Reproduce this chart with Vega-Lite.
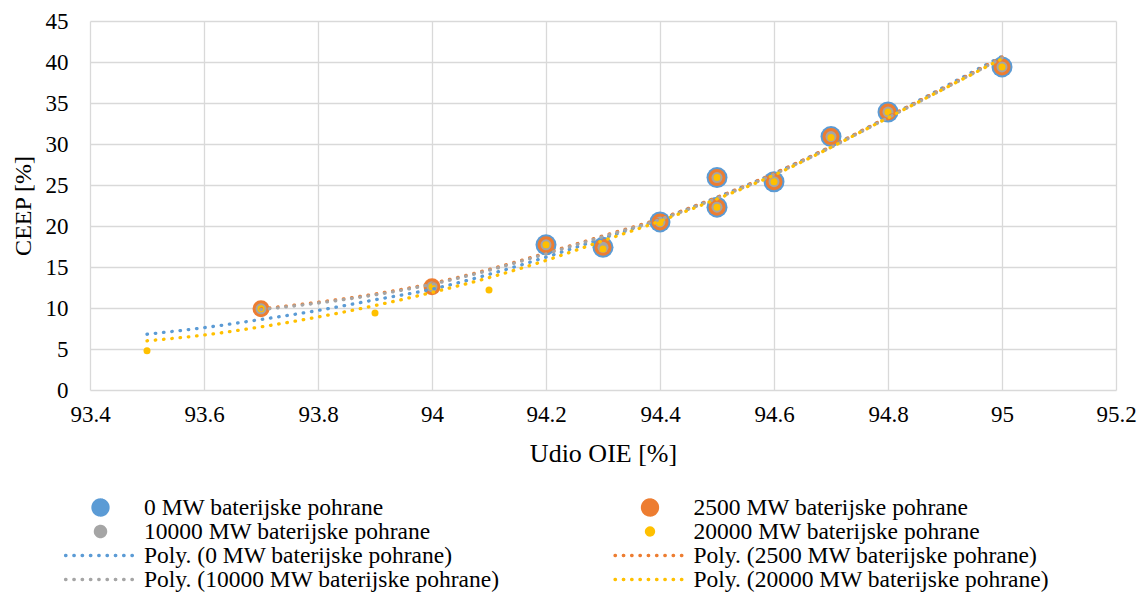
{
  "$schema": "https://vega.github.io/schema/vega-lite/v6.json",
  "width": 1026,
  "height": 369,
  "autosize": {"type": "none"},
  "padding": {"left": 90, "top": 21, "right": 24, "bottom": 204},
  "background": "white",
  "config": {
    "font": "Liberation Serif",
    "view": {"stroke": null},
    "axis": {
      "domain": false,
      "ticks": false,
      "grid": true,
      "gridColor": "#D9D9D9",
      "gridWidth": 1.3,
      "labelFont": "Liberation Serif",
      "labelFontSize": 23,
      "labelColor": "#000000",
      "labelFlush": false,
      "labelOverlap": false,
      "titleFont": "Liberation Serif",
      "titleFontWeight": "normal",
      "titleColor": "#000000"
    }
  },
  "datasets": {
    "pts": [
      {"x": 94.2, "y": 17.7, "series": "0 MW baterijske pohrane"},
      {"x": 94.3, "y": 17.4, "series": "0 MW baterijske pohrane"},
      {"x": 94.4, "y": 20.5, "series": "0 MW baterijske pohrane"},
      {"x": 94.5, "y": 25.9, "series": "0 MW baterijske pohrane"},
      {"x": 94.5, "y": 22.3, "series": "0 MW baterijske pohrane"},
      {"x": 94.6, "y": 25.4, "series": "0 MW baterijske pohrane"},
      {"x": 94.7, "y": 30.9, "series": "0 MW baterijske pohrane"},
      {"x": 94.8, "y": 33.9, "series": "0 MW baterijske pohrane"},
      {"x": 95.0, "y": 39.4, "series": "0 MW baterijske pohrane"},
      {"x": 93.7, "y": 9.9, "series": "2500 MW baterijske pohrane"},
      {"x": 94.0, "y": 12.6, "series": "2500 MW baterijske pohrane"},
      {"x": 94.2, "y": 17.7, "series": "2500 MW baterijske pohrane"},
      {"x": 94.3, "y": 17.4, "series": "2500 MW baterijske pohrane"},
      {"x": 94.4, "y": 20.5, "series": "2500 MW baterijske pohrane"},
      {"x": 94.5, "y": 25.9, "series": "2500 MW baterijske pohrane"},
      {"x": 94.5, "y": 22.3, "series": "2500 MW baterijske pohrane"},
      {"x": 94.6, "y": 25.4, "series": "2500 MW baterijske pohrane"},
      {"x": 94.7, "y": 30.9, "series": "2500 MW baterijske pohrane"},
      {"x": 94.8, "y": 33.9, "series": "2500 MW baterijske pohrane"},
      {"x": 95.0, "y": 39.4, "series": "2500 MW baterijske pohrane"},
      {"x": 93.7, "y": 9.9, "series": "10000 MW baterijske pohrane"},
      {"x": 94.0, "y": 12.6, "series": "10000 MW baterijske pohrane"},
      {"x": 94.2, "y": 17.7, "series": "10000 MW baterijske pohrane"},
      {"x": 94.3, "y": 17.4, "series": "10000 MW baterijske pohrane"},
      {"x": 94.4, "y": 20.5, "series": "10000 MW baterijske pohrane"},
      {"x": 94.5, "y": 25.9, "series": "10000 MW baterijske pohrane"},
      {"x": 94.5, "y": 22.3, "series": "10000 MW baterijske pohrane"},
      {"x": 94.6, "y": 25.4, "series": "10000 MW baterijske pohrane"},
      {"x": 94.7, "y": 30.9, "series": "10000 MW baterijske pohrane"},
      {"x": 94.8, "y": 33.9, "series": "10000 MW baterijske pohrane"},
      {"x": 95.0, "y": 39.4, "series": "10000 MW baterijske pohrane"},
      {"x": 93.5, "y": 4.8, "series": "20000 MW baterijske pohrane"},
      {"x": 93.7, "y": 9.9, "series": "20000 MW baterijske pohrane"},
      {"x": 93.9, "y": 9.4, "series": "20000 MW baterijske pohrane"},
      {"x": 94.0, "y": 12.6, "series": "20000 MW baterijske pohrane"},
      {"x": 94.1, "y": 12.2, "series": "20000 MW baterijske pohrane"},
      {"x": 94.2, "y": 17.7, "series": "20000 MW baterijske pohrane"},
      {"x": 94.3, "y": 17.2, "series": "20000 MW baterijske pohrane"},
      {"x": 94.4, "y": 20.4, "series": "20000 MW baterijske pohrane"},
      {"x": 94.5, "y": 25.9, "series": "20000 MW baterijske pohrane"},
      {"x": 94.5, "y": 22.3, "series": "20000 MW baterijske pohrane"},
      {"x": 94.6, "y": 25.4, "series": "20000 MW baterijske pohrane"},
      {"x": 94.7, "y": 30.8, "series": "20000 MW baterijske pohrane"},
      {"x": 94.8, "y": 33.9, "series": "20000 MW baterijske pohrane"},
      {"x": 95.0, "y": 39.4, "series": "20000 MW baterijske pohrane"}
    ],
    "trend": [
      {"x": 93.5, "y": 6.8, "trend": "Poly. (0 MW baterijske pohrane)"},
      {"x": 93.6, "y": 7.6, "trend": "Poly. (0 MW baterijske pohrane)"},
      {"x": 93.7, "y": 8.6, "trend": "Poly. (0 MW baterijske pohrane)"},
      {"x": 93.8, "y": 9.7, "trend": "Poly. (0 MW baterijske pohrane)"},
      {"x": 93.9, "y": 11.0, "trend": "Poly. (0 MW baterijske pohrane)"},
      {"x": 94.0, "y": 12.3, "trend": "Poly. (0 MW baterijske pohrane)"},
      {"x": 94.1, "y": 14.1, "trend": "Poly. (0 MW baterijske pohrane)"},
      {"x": 94.2, "y": 16.2, "trend": "Poly. (0 MW baterijske pohrane)"},
      {"x": 94.3, "y": 18.5, "trend": "Poly. (0 MW baterijske pohrane)"},
      {"x": 94.4, "y": 20.8, "trend": "Poly. (0 MW baterijske pohrane)"},
      {"x": 94.5, "y": 23.5, "trend": "Poly. (0 MW baterijske pohrane)"},
      {"x": 94.6, "y": 26.4, "trend": "Poly. (0 MW baterijske pohrane)"},
      {"x": 94.7, "y": 29.7, "trend": "Poly. (0 MW baterijske pohrane)"},
      {"x": 94.8, "y": 33.3, "trend": "Poly. (0 MW baterijske pohrane)"},
      {"x": 94.9, "y": 37.0, "trend": "Poly. (0 MW baterijske pohrane)"},
      {"x": 95.0, "y": 40.7, "trend": "Poly. (0 MW baterijske pohrane)"},
      {"x": 93.7, "y": 9.9, "trend": "Poly. (2500 MW baterijske pohrane)"},
      {"x": 93.8, "y": 10.7, "trend": "Poly. (2500 MW baterijske pohrane)"},
      {"x": 93.9, "y": 11.7, "trend": "Poly. (2500 MW baterijske pohrane)"},
      {"x": 94.0, "y": 13.0, "trend": "Poly. (2500 MW baterijske pohrane)"},
      {"x": 94.1, "y": 14.7, "trend": "Poly. (2500 MW baterijske pohrane)"},
      {"x": 94.2, "y": 16.7, "trend": "Poly. (2500 MW baterijske pohrane)"},
      {"x": 94.3, "y": 18.8, "trend": "Poly. (2500 MW baterijske pohrane)"},
      {"x": 94.4, "y": 20.9, "trend": "Poly. (2500 MW baterijske pohrane)"},
      {"x": 94.5, "y": 23.5, "trend": "Poly. (2500 MW baterijske pohrane)"},
      {"x": 94.6, "y": 26.4, "trend": "Poly. (2500 MW baterijske pohrane)"},
      {"x": 94.7, "y": 29.7, "trend": "Poly. (2500 MW baterijske pohrane)"},
      {"x": 94.8, "y": 33.3, "trend": "Poly. (2500 MW baterijske pohrane)"},
      {"x": 94.9, "y": 36.9, "trend": "Poly. (2500 MW baterijske pohrane)"},
      {"x": 95.0, "y": 40.6, "trend": "Poly. (2500 MW baterijske pohrane)"},
      {"x": 93.7, "y": 9.8, "trend": "Poly. (10000 MW baterijske pohrane)"},
      {"x": 93.8, "y": 10.6, "trend": "Poly. (10000 MW baterijske pohrane)"},
      {"x": 93.9, "y": 11.6, "trend": "Poly. (10000 MW baterijske pohrane)"},
      {"x": 94.0, "y": 12.9, "trend": "Poly. (10000 MW baterijske pohrane)"},
      {"x": 94.1, "y": 14.6, "trend": "Poly. (10000 MW baterijske pohrane)"},
      {"x": 94.2, "y": 16.6, "trend": "Poly. (10000 MW baterijske pohrane)"},
      {"x": 94.3, "y": 18.7, "trend": "Poly. (10000 MW baterijske pohrane)"},
      {"x": 94.4, "y": 20.8, "trend": "Poly. (10000 MW baterijske pohrane)"},
      {"x": 94.5, "y": 23.4, "trend": "Poly. (10000 MW baterijske pohrane)"},
      {"x": 94.6, "y": 26.3, "trend": "Poly. (10000 MW baterijske pohrane)"},
      {"x": 94.7, "y": 29.6, "trend": "Poly. (10000 MW baterijske pohrane)"},
      {"x": 94.8, "y": 33.2, "trend": "Poly. (10000 MW baterijske pohrane)"},
      {"x": 94.9, "y": 36.8, "trend": "Poly. (10000 MW baterijske pohrane)"},
      {"x": 95.0, "y": 40.5, "trend": "Poly. (10000 MW baterijske pohrane)"},
      {"x": 93.5, "y": 6.0, "trend": "Poly. (20000 MW baterijske pohrane)"},
      {"x": 93.6, "y": 6.7, "trend": "Poly. (20000 MW baterijske pohrane)"},
      {"x": 93.7, "y": 7.7, "trend": "Poly. (20000 MW baterijske pohrane)"},
      {"x": 93.8, "y": 8.9, "trend": "Poly. (20000 MW baterijske pohrane)"},
      {"x": 93.9, "y": 10.3, "trend": "Poly. (20000 MW baterijske pohrane)"},
      {"x": 94.0, "y": 11.9, "trend": "Poly. (20000 MW baterijske pohrane)"},
      {"x": 94.1, "y": 13.7, "trend": "Poly. (20000 MW baterijske pohrane)"},
      {"x": 94.2, "y": 15.8, "trend": "Poly. (20000 MW baterijske pohrane)"},
      {"x": 94.3, "y": 18.2, "trend": "Poly. (20000 MW baterijske pohrane)"},
      {"x": 94.4, "y": 20.6, "trend": "Poly. (20000 MW baterijske pohrane)"},
      {"x": 94.5, "y": 23.3, "trend": "Poly. (20000 MW baterijske pohrane)"},
      {"x": 94.6, "y": 26.2, "trend": "Poly. (20000 MW baterijske pohrane)"},
      {"x": 94.7, "y": 29.6, "trend": "Poly. (20000 MW baterijske pohrane)"},
      {"x": 94.8, "y": 33.2, "trend": "Poly. (20000 MW baterijske pohrane)"},
      {"x": 94.9, "y": 36.8, "trend": "Poly. (20000 MW baterijske pohrane)"},
      {"x": 95.0, "y": 40.4, "trend": "Poly. (20000 MW baterijske pohrane)"}
    ]
  },
  "layer": [
    {
      "data": {"name": "pts"},
      "mark": {"type": "point", "filled": true, "shape": "circle", "opacity": 1},
      "encoding": {
        "x": {
          "field": "x", "type": "quantitative",
          "scale": {"domain": [93.4, 95.2], "nice": false, "zero": false},
          "axis": {
            "title": "Udio OIE [%]",
            "values": [93.4, 93.6, 93.8, 94.0, 94.2, 94.4, 94.6, 94.8, 95.0, 95.2],
            "format": "~f",
            "labelPadding": 13,
            "titlePadding": 14,
            "titleFontSize": 26
          }
        },
        "y": {
          "field": "y", "type": "quantitative",
          "scale": {"domain": [0, 45], "nice": false},
          "axis": {
            "title": "CEEP [%]",
            "values": [0, 5, 10, 15, 20, 25, 30, 35, 40, 45],
            "labelPadding": 22,
            "titlePadding": 10,
            "titleFontSize": 24
          }
        },
        "color": {
          "field": "series", "type": "nominal",
          "scale": {
            "domain": ["0 MW baterijske pohrane", "10000 MW baterijske pohrane", "Poly. (0 MW baterijske pohrane)", "Poly. (10000 MW baterijske pohrane)", "2500 MW baterijske pohrane", "20000 MW baterijske pohrane", "Poly. (2500 MW baterijske pohrane)", "Poly. (20000 MW baterijske pohrane)"],
            "range": ["#5B9BD5", "#A5A5A5", "#5B9BD5", "#A5A5A5", "#ED7D31", "#FFC000", "#ED7D31", "#FFC000"]
          },
          "legend": {
            "title": null,
            "orient": "none",
            "legendX": -26.5,
            "legendY": 475,
            "columns": 2,
            "columnPadding": 113.5,
            "rowPadding": 0,
            "clipHeight": 23,
            "padding": 0,
            "symbolSize": 4900,
            "symbolStrokeWidth": 3.3,
            "symbolOpacity": 1,
            "labelFont": "Liberation Serif",
            "labelFontSize": 23.5,
            "labelColor": "#000000",
            "labelOffset": 6.5,
            "labelLimit": 1000,
            "encode": {
              "symbols": {
                "update": {
                  "shape": {"signal": "indexof(datum.value, 'Poly') === 0 ? 'stroke' : (datum.value === '20000 MW baterijske pohrane' ? 'M-0.1,0A0.1,0.1,0,1,0,0.1,0A0.1,0.1,0,1,0,-0.1,0Z' : (datum.value === '10000 MW baterijske pohrane' ? 'M-0.145,0A0.145,0.145,0,1,0,0.145,0A0.145,0.145,0,1,0,-0.145,0Z' : 'M-0.214,0A0.214,0.214,0,1,0,0.214,0A0.214,0.214,0,1,0,-0.214,0Z'))"},
                  "fill": {"signal": "indexof(datum.value, 'Poly') === 0 ? 'transparent' : scale('color', datum.value)"},
                  "stroke": {"signal": "indexof(datum.value, 'Poly') === 0 ? scale('color', datum.value) : 'transparent'"},
                  "strokeDash": {"signal": "indexof(datum.value, 'Poly') === 0 ? [0.5, 7.8] : [1, 0]"},
                  "strokeCap": {"value": "round"}
                }
              }
            }
          }
        },
        "size": {
          "field": "series", "type": "nominal",
          "scale": {
            "type": "ordinal",
            "domain": ["0 MW baterijske pohrane", "2500 MW baterijske pohrane", "10000 MW baterijske pohrane", "20000 MW baterijske pohrane"],
            "range": [441, 289, 121, 49]
          },
          "legend": null
        }
      }
    },
    {
      "data": {"name": "trend"},
      "mark": {"type": "line", "strokeWidth": 3.3, "strokeDash": [0.5, 7.8], "strokeCap": "round", "interpolate": "monotone"},
      "encoding": {
        "x": {"field": "x", "type": "quantitative"},
        "y": {"field": "y", "type": "quantitative"},
        "color": {"field": "trend", "type": "nominal"}
      }
    }
  ]
}
